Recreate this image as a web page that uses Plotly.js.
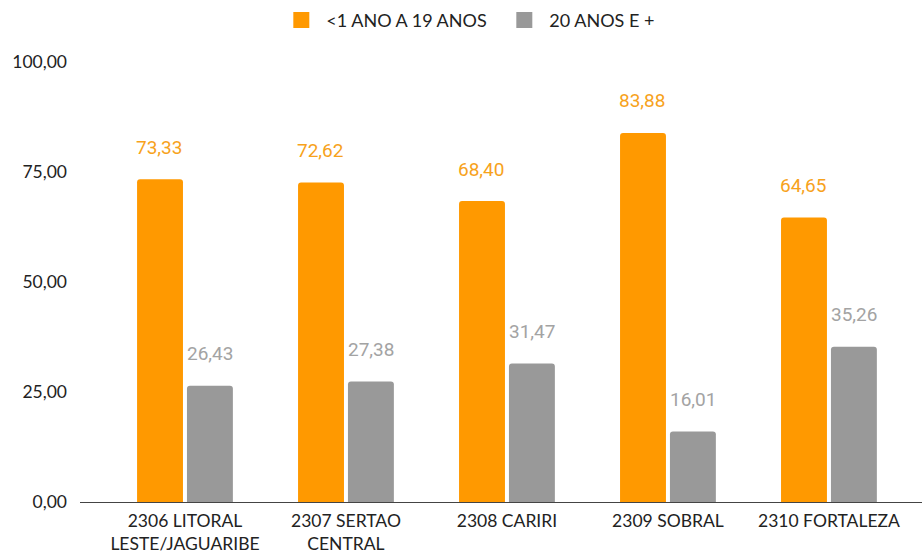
<!DOCTYPE html>
<html>
<head>
<meta charset="utf-8">
<script src="https://cdn.plot.ly/plotly-3.0.1.min.js"></script>
<style>html,body{margin:0;padding:0;background:#fff;}#chart{width:922px;height:555px;}</style>
</head>
<body>
<div id="chart"></div>
<script>
const categories = ["2306 LITORAL<br>LESTE/JAGUARIBE", "2307 SERTAO<br>CENTRAL", "2308 CARIRI", "2309 SOBRAL", "2310 FORTALEZA"];
const seriesNames = ["<1 ANO A 19 ANOS", "20 ANOS E +"];
const young = [73.33, 72.62, 68.40, 83.88, 64.65];
const adult = [26.43, 27.38, 31.47, 16.01, 35.26];
const yTicks = [0, 25, 50, 75, 100];

const ORANGE = "#FF9900", GRAY = "#999999";
const LABEL_ORANGE = "#F7A21B", LABEL_GRAY = "#A3A3A3";
const fmt = v => v.toFixed(2).replace(".", ",");

const traces = [
  {type: "bar", x: categories, y: young, name: seriesNames[0], marker: {color: ORANGE}, showlegend: false, hoverinfo: "none"},
  {type: "bar", x: categories, y: adult, name: seriesNames[1], marker: {color: GRAY}, showlegend: false, hoverinfo: "none"},
  {type: "scatter", mode: "markers", x: [null], y: [null], name: seriesNames[0], marker: {symbol: "square", color: ORANGE, size: 18}},
  {type: "scatter", mode: "markers", x: [null], y: [null], name: seriesNames[1], marker: {symbol: "square", color: GRAY, size: 18}}
];

const annotations = [];
[[young, -25.5, LABEL_ORANGE], [adult, 25.5, LABEL_GRAY]].forEach(([vals, dx, col]) => {
  vals.forEach((v, i) => {
    annotations.push({
      x: categories[i], y: v, xref: "x", yref: "y", text: fmt(v), showarrow: false,
      xshift: dx, yshift: 32, yanchor: "middle",
      font: {family: "Roboto, sans-serif", size: 19, color: col}
    });
  });
});

const layout = {
  width: 922, height: 555,
  margin: {l: 80, r: 0, t: 62, b: 53, autoexpand: false},
  paper_bgcolor: "#fff", plot_bgcolor: "#fff",
  separators: ",.",
  barmode: "group", bargap: 0.38, bargroupgap: 0.08, barcornerradius: 3,
  font: {family: "Lato, sans-serif", size: 17.5, color: "#222"},
  xaxis: {
    type: "category", range: [-0.652, 4.578], showgrid: false, zeroline: false,
    showline: true, linecolor: "#444", linewidth: 1, ticks: "", ticklabelstandoff: 3,
    tickfont: {size: 17.5, color: "#222"}, fixedrange: true
  },
  yaxis: {
    range: [0, 100], tickvals: yTicks, tickformat: ".2f", showgrid: false, zeroline: false,
    showline: false, ticks: "", ticklabelstandoff: 12,
    tickfont: {size: 17.5, color: "#222"}, fixedrange: true
  },
  legend: {
    orientation: "h", x: 0.498, xanchor: "center", y: 1.095, yanchor: "middle",
    font: {size: 18, color: "#222"}, itemwidth: 40, entrywidth: 168, traceorder: "normal"
  },
  annotations: annotations,
  showlegend: true
};

Plotly.newPlot("chart", traces, layout, {displayModeBar: false, staticPlot: true});
</script>
</body>
</html>
